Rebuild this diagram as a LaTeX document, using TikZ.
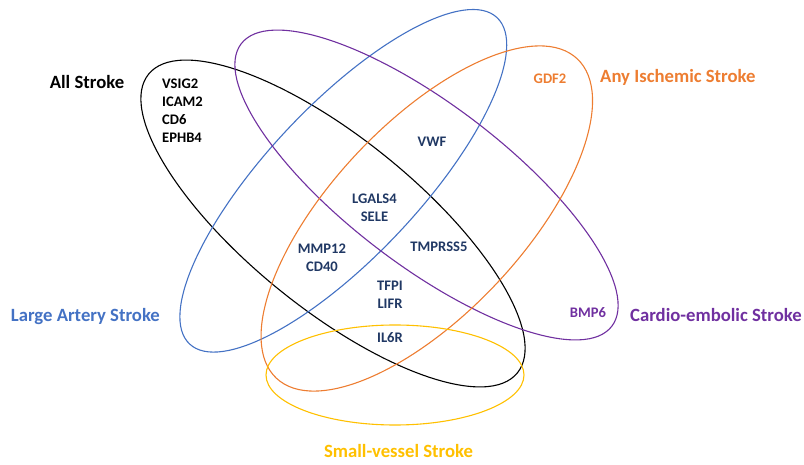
\documentclass[tikz,border=0pt]{standalone}
\usepackage{fontspec}
\setmainfont{Carlito}
\usetikzlibrary{positioning}
\definecolor{allc}{HTML}{000000}
\definecolor{lasc}{HTML}{4472C4}
\definecolor{aisc}{HTML}{ED7D31}
\definecolor{cesc}{HTML}{7030A0}
\definecolor{svsc}{HTML}{FFC000}
\definecolor{navy}{HTML}{203864}
\begin{document}
\begin{tikzpicture}[x=1pt, y=1pt,
  every node/.style={font=\bfseries},
  ring/.style ={line width=1.1pt},
  setlbl/.style={font=\fontsize{18.7}{22}\selectfont\bfseries, inner sep=0pt},
  gene/.style ={font=\fontsize{14.6}{18}\selectfont\bfseries, align=center, inner sep=0pt, text=navy},
]
  \useasboundingbox (0,0) rectangle (804,464);
  % the five sets
  \draw[ring, allc] (333,240.5) ellipse [x radius=237.3, y radius=85.3, rotate=-39];
  \draw[ring, lasc] (343.3,283.2) ellipse [x radius=224.2, y radius=75.9, rotate=46.7];
  \draw[ring, cesc] (426.5,279) ellipse [x radius=233, y radius=80.1, rotate=-37.3];
  \draw[ring, aisc] (426.8,245.5) ellipse [x radius=219.4, y radius=95.4, rotate=46.7];
  \draw[ring, svsc] (395,89) ellipse [x radius=129, y radius=50];
  % set names
  \node[setlbl, allc] (all) at (87,382) {All Stroke};
  \node[setlbl, aisc, anchor=west] (ais) at (600,387) {Any Ischemic Stroke};
  \node[setlbl, lasc, anchor=west] (las) at (10.7,147) {Large Artery Stroke};
  \node[setlbl, cesc, anchor=west] (ces) at (630,149) {Cardio-embolic Stroke};
  \node[setlbl, svsc] (svs) at (398.5,13.3) {Small-vessel Stroke};
  % proteins
  \node[gene, text=black, align=left, anchor=west] (g1) at (162,353) {VSIG2\\ICAM2\\CD6\\EPHB4};
  \node[gene, text=aisc] (g2) at (550,385) {GDF2};
  \node[gene] (g3) at (432,322) {VWF};
  \node[gene] (g4) at (374.5,256.5) {LGALS4\\SELE};
  \node[gene] (g5) at (322,206) {MMP12\\CD40};
  \node[gene] (g6) at (439,217) {TMPRSS5};
  \node[gene] (g7) at (390,169.5) {TFPI\\LIFR};
  \node[gene] (g8) at (390,126) {IL6R};
  \node[gene, text=cesc] (g9) at (588,151) {BMP6};
\end{tikzpicture}
\end{document}
